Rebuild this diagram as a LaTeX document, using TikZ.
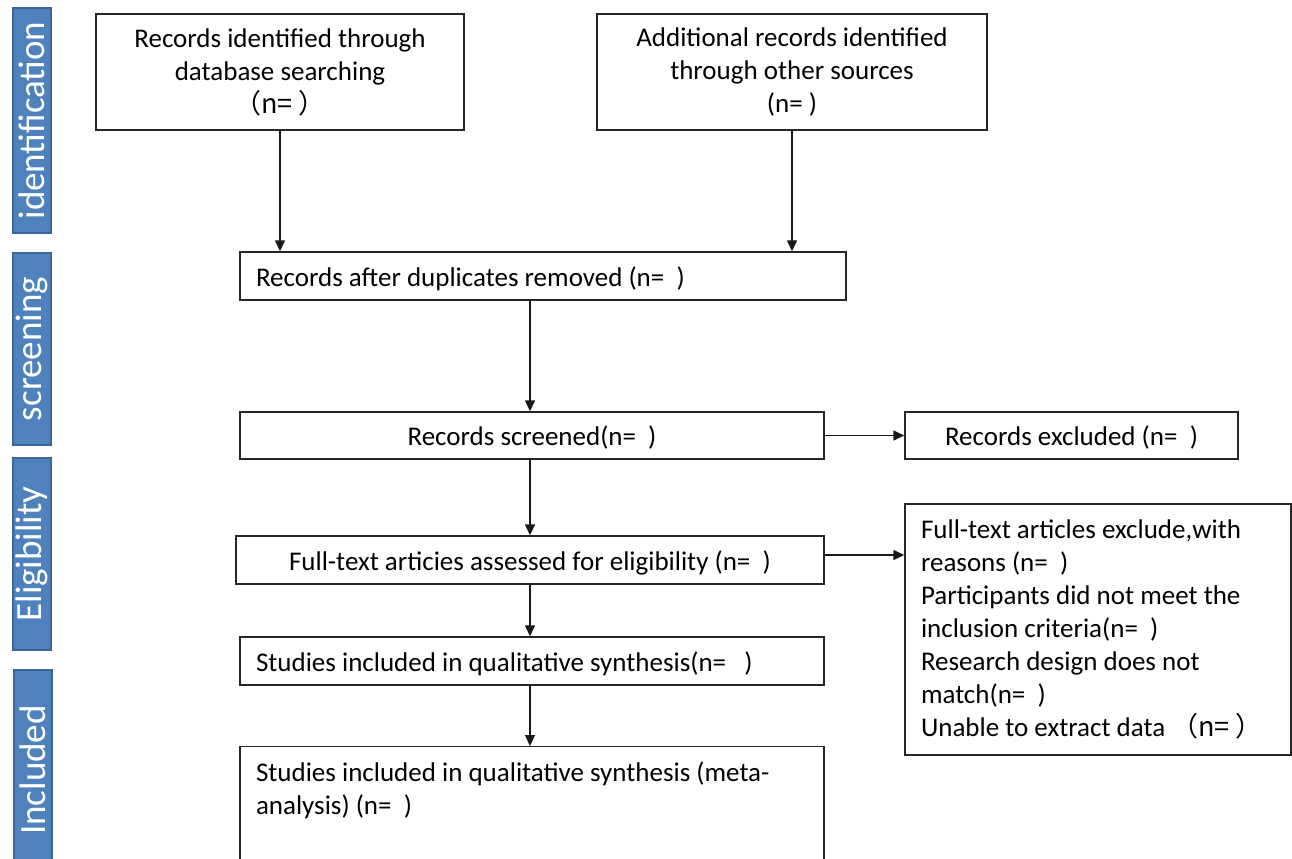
\documentclass[tikz,border=0pt]{standalone}
\usepackage{fontspec}
\setmainfont{Carlito}
\newfontfamily\cjk{Noto Sans CJK SC}
\usetikzlibrary{arrows.meta}
\definecolor{labblue}{HTML}{4F81BD}
\definecolor{labedge}{HTML}{3A679C}
\begin{document}
\begin{tikzpicture}[x=0.5pt,y=-0.5pt,
  box/.style={draw=black!85, line width=0.7pt, inner sep=0pt, align=center,
    font=\fontsize{13.5}{16.5}\selectfont},
  lbox/.style={box, align=flush left, inner xsep=8pt},
  one/.style={text height=10pt, text depth=0pt},
  lab/.style={draw=labedge, line width=0.8pt, fill=labblue, text=white, rotate=90,
    inner sep=0pt, minimum height=19pt, font=\fontsize{18.5}{20}\selectfont},
  arr/.style={line width=0.7pt, draw=black!90, -{Triangle[length=5.5pt,width=5pt]}}]
\clip (0,0) rectangle (1292,858);
\fill[white] (0,0) rectangle (1292,858);
% side labels
\node[lab, minimum width=112.5pt] (L1) at (32,120.5) {identification};
\node[lab, minimum width=96pt] (L2) at (32,349) {screening};
\node[lab, minimum width=96pt] (L3) at (32,554) {Eligibility};
\node[lab, minimum width=100pt] (L4) at (33,770) {Included};
% boxes
\node[box, minimum width=184pt, minimum height=58pt] (A) at (280,72)
  {Records identified through\\database searching\\\cjk{（}n=\cjk{ ）}};
\node[box, minimum width=195pt, minimum height=58pt] (B) at (792,72)
  {Additional records identified\\through other sources\\(n= )};
\node[lbox, one, text width=287pt, minimum height=24pt] (C) at (543,276)
  {Records after duplicates removed (n=\ \ )};
\node[box, one, minimum width=292pt, minimum height=23.5pt] (D) at (532,435.5)
  {Records screened(n=\ \ )};
\node[box, one, minimum width=166.5pt, minimum height=23.5pt] (E) at (1071.5,435.5)
  {Records excluded (n=\ \ )};
\node[box, one, minimum width=294pt, minimum height=24pt] (F) at (530,560)
  {Full-text articies assessed for eligibility (n=\ \ )};
\node[lbox, text width=177pt, minimum height=125.5pt] (G) at (1098,629.5)
  {Full-text articles exclude,with\\reasons (n=\ \ )\\Participants did not meet the\\inclusion criteria(n=\ \ )\\Research design does not\\match(n=\ \ )\\Unable to extract data \cjk{（}n=\cjk{ ）}};
\node[lbox, one, text width=276pt, minimum height=24pt] (H) at (532,661)
  {Studies included in qualitative synthesis(n=\ \ \ )};
\node[lbox, text width=276pt, anchor=north, inner ysep=7.5pt, text depth=60pt] (I) at (532,746)
  {Studies included in qualitative synthesis (meta-\\analysis) (n=\ \ )};
% connectors
\draw[arr] (A.south) -- (A.south |- C.north);
\draw[arr] (B.south) -- (B.south |- C.north);
\draw[arr] (C.south -| F.north) -- (F.north |- D.north);
\draw[arr] (D.east) -- (E.west);
\draw[arr] (D.south -| F.north) -- (F.north);
\draw[arr] ([yshift=2.5pt]F.east) -- ([yshift=2.5pt]F.east -| G.west);
\draw[arr] (F.south) -- (F.south |- H.north);
\draw[arr] (H.south -| F.south) -- (F.south |- I.north);
\end{tikzpicture}
\end{document}
